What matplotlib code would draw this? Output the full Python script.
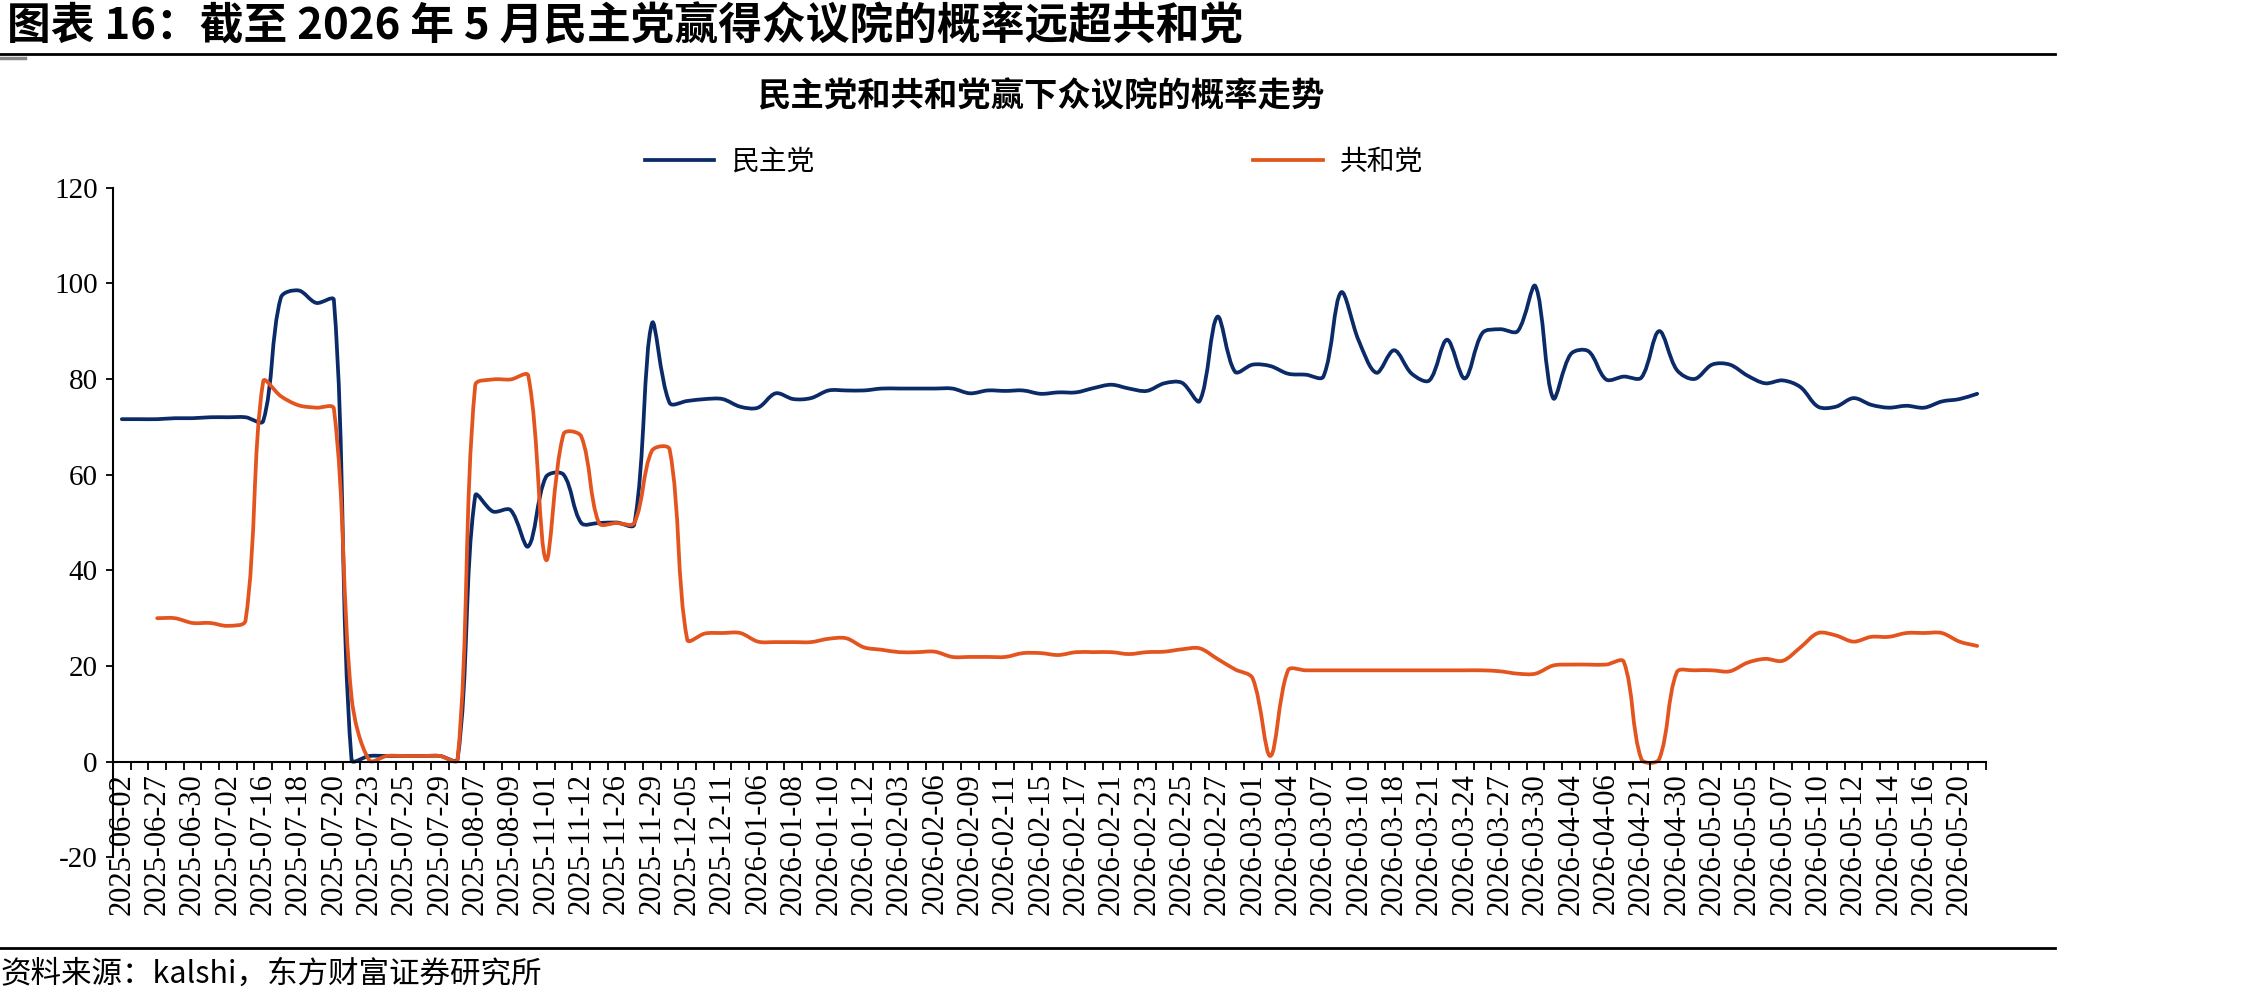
import numpy as np
import matplotlib

matplotlib.use("Agg")
import matplotlib.pyplot as plt
from matplotlib.path import Path
from matplotlib.patches import PathPatch
from matplotlib.lines import Line2D

plt.rcParams["font.family"] = ["Noto Sans CJK SC", "DejaVu Sans"]

# ---------------------------------------------------------------------------
# Data
# ---------------------------------------------------------------------------

# every other category carries a date label
date_labels = [
    "2025-06-02", "2025-06-27", "2025-06-30", "2025-07-02", "2025-07-16",
    "2025-07-18", "2025-07-20", "2025-07-23", "2025-07-25", "2025-07-29",
    "2025-08-07", "2025-08-09", "2025-11-01", "2025-11-12", "2025-11-26",
    "2025-11-29", "2025-12-05", "2025-12-11", "2026-01-06", "2026-01-08",
    "2026-01-10", "2026-01-12", "2026-02-03", "2026-02-06", "2026-02-09",
    "2026-02-11", "2026-02-15", "2026-02-17", "2026-02-21", "2026-02-23",
    "2026-02-25", "2026-02-27", "2026-03-01", "2026-03-04", "2026-03-07",
    "2026-03-10", "2026-03-18", "2026-03-21", "2026-03-24", "2026-03-27",
    "2026-03-30", "2026-04-04", "2026-04-06", "2026-04-21", "2026-04-30",
    "2026-05-02", "2026-05-05", "2026-05-07", "2026-05-10", "2026-05-12",
    "2026-05-14", "2026-05-16", "2026-05-20",
]

democrats = [
    71.6, 71.6, 71.6, 71.8, 71.8, 72.0, 72.0, 72.0, 71.2, 97.0,
    98.5, 95.9, 96.5, 0.4, 1.2, 1.2, 1.2, 1.2, 1.2, 0.5,
    55.6, 52.3, 52.6, 45.0, 59.5, 60.0, 49.9, 49.9, 50.0, 49.6,
    91.6, 75.0, 75.4, 75.8, 75.8, 74.2, 74.0, 77.0, 75.8, 76.0,
    77.6, 77.6, 77.6, 78.0, 78.0, 78.0, 78.0, 78.0, 77.0, 77.6,
    77.5, 77.6, 76.9, 77.2, 77.2, 78.1, 78.8, 78.0, 77.5, 79.1,
    79.2, 75.4, 93.0, 81.5, 83.0, 82.7, 81.1, 80.9, 80.5, 98.1,
    88.0, 81.3, 86.0, 81.1, 79.7, 88.2, 80.1, 89.6, 90.4, 90.0,
    99.4, 76.0, 85.2, 85.8, 79.9, 80.5, 80.3, 90.0, 81.9, 80.0,
    83.0, 83.0, 80.7, 79.1, 79.7, 78.3, 74.2, 74.2, 76.0, 74.6,
    74.0, 74.4, 74.0, 75.3, 75.8, 76.9,
]

republicans = [
    None, None, 30.0, 30.0, 29.0, 29.0, 28.4, 29.5, 79.5, 76.4,
    74.5, 74.0, 73.8, 13.5, 0.3, 1.2, 1.2, 1.2, 1.2, 0.4,
    78.7, 79.9, 79.9, 80.7, 42.2, 68.5, 68.0, 49.9, 49.9, 49.9,
    65.0, 65.3, 25.5, 26.8, 26.9, 26.9, 25.1, 25.0, 25.0, 25.0,
    25.7, 25.8, 23.9, 23.4, 22.9, 22.9, 23.0, 21.9, 21.9, 21.9,
    21.9, 22.7, 22.7, 22.3, 22.9, 22.9, 22.9, 22.5, 22.9, 23.0,
    23.5, 23.7, 21.5, 19.3, 17.4, 1.2, 19.1, 19.1, 19.1, 19.1,
    19.1, 19.1, 19.1, 19.1, 19.1, 19.1, 19.1, 19.1, 18.9, 18.4,
    18.4, 20.1, 20.3, 20.3, 20.3, 20.9, 0.5, 0.5, 18.7, 19.1,
    19.1, 18.9, 20.7, 21.5, 21.1, 23.9, 26.9, 26.4, 25.1, 26.1,
    26.1, 26.9, 26.9, 26.9, 25.1, 24.2,
]

series_names = ["民主党", "共和党"]
series_colors = ["#0B2A68", "#E4541F"]


# ---------------------------------------------------------------------------
# Helpers
# ---------------------------------------------------------------------------


def smooth_path(values, sx, sy):
    """Excel-like smoothed line: cubic Bezier through every point, with the
    handle lengths scaled by the on-screen segment lengths (sx, sy = px/unit)."""
    verts, codes = [], []
    y = np.array([np.nan if v is None else v for v in values], dtype=float)
    x = np.arange(len(y), dtype=float)
    runs, cur = [], []
    for i in range(len(y)):
        if not np.isnan(y[i]):
            cur.append(i)
        elif cur:
            runs.append(cur)
            cur = []
    if cur:
        runs.append(cur)

    scale = np.array([sx, sy])
    for run in runs:
        pts = np.column_stack([x[run], y[run]])
        n = len(pts)
        out_h, in_h = [], []  # handle after / before each point
        for i in range(n):
            p0 = pts[i - 1] if i > 0 else pts[i]
            p2 = pts[i + 1] if i < n - 1 else pts[i]
            d01 = np.linalg.norm((pts[i] - p0) * scale)
            d12 = np.linalg.norm((p2 - pts[i]) * scale)
            tot = d01 + d12
            t = p2 - p0
            if tot == 0:
                out_h.append(pts[i])
                in_h.append(pts[i])
                continue
            out_h.append(pts[i] + t * (d12 / tot) / 3)
            in_h.append(pts[i] - t * (d01 / tot) / 3)
        verts.append(pts[0])
        codes.append(Path.MOVETO)
        for i in range(n - 1):
            verts += [out_h[i], in_h[i + 1], pts[i + 1]]
            codes += [Path.CURVE4] * 3
    return Path(verts, codes)


# ---------------------------------------------------------------------------
# Figure
# ---------------------------------------------------------------------------

W, H = 2245, 1002
ax_left, ax_right, ax_top, ax_bot = 113, 1986, 187.6, 857.4
fig = plt.figure(figsize=(W / 100, H / 100), dpi=100)
ax = fig.add_axes([ax_left / W, 1 - ax_bot / H, (ax_right - ax_left) / W, (ax_bot - ax_top) / H])

n_cat = len(democrats)
ax.set_xlim(-0.5, n_cat - 0.5)
ax.set_ylim(-20, 120)

# spine position first: it rebuilds the tick objects
for side in ["top", "right"]:
    ax.spines[side].set_visible(False)
ax.spines["bottom"].set_position(("data", 0))
ax.spines["bottom"].set_linewidth(1.5)
ax.spines["left"].set_linewidth(1.5)

px_x = (ax_right - ax_left) / n_cat
px_y = (ax_bot - ax_top) / 140
handles = []
for vals, name, col in zip([democrats, republicans], series_names, series_colors):
    ax.add_patch(PathPatch(smooth_path(vals, px_x, px_y), fill=False, edgecolor=col,
                           lw=2.7, capstyle="round", joinstyle="round"))
    handles.append(Line2D([], [], color=col, lw=2.7, label=name))

ax.set_yticks(range(-20, 121, 20))
ax.set_yticklabels([str(v) for v in range(-20, 121, 20)],
                   family="Liberation Serif", fontsize=21)

ax.set_xticks(np.arange(0, n_cat, 2))
ax.set_xticklabels(date_labels, rotation=90, family="Liberation Serif", fontsize=22)
ax.set_xticks(np.arange(-0.5, n_cat, 1), minor=True)

ax.tick_params(axis="x", which="major", length=0, pad=8)
ax.tick_params(axis="x", which="minor", length=6, width=1.3, direction="out")
ax.tick_params(axis="y", length=5, width=1.3, direction="out", pad=6)

# legend in one row above the plot
fig.legend(handles=handles, loc="center left", bbox_to_anchor=(645 / W, 1 - 162 / H),
           ncol=2, frameon=False, fontsize=20, handlelength=2.5, handletextpad=0.6,
           columnspacing=15.8, borderpad=0, borderaxespad=0)

# titles and rules
fig.text(7 / W, 1 - 26 / H, "图表 16：截至 2026 年 5 月民主党赢得众议院的概率远超共和党",
         fontsize=31.5, fontweight="bold", va="center", ha="left")
fig.add_artist(Line2D([0, 2055 / W], [1 - 54 / H] * 2, color="black", lw=2))
fig.add_artist(Line2D([0, 25 / W], [1 - 58 / H] * 2, color="#888888", lw=2.5))
fig.text(1041 / W, 1 - 97 / H, "民主党和共和党赢下众议院的概率走势",
         fontsize=24, fontweight="bold", va="center", ha="center")
fig.add_artist(Line2D([0, 2055 / W], [1 - 948 / H] * 2, color="black", lw=2))
fig.text(0, 1 - 974 / H, "资料来源：kalshi，东方财富证券研究所",
         fontsize=22, va="center", ha="left")

fig.savefig("out.png", dpi=100)
